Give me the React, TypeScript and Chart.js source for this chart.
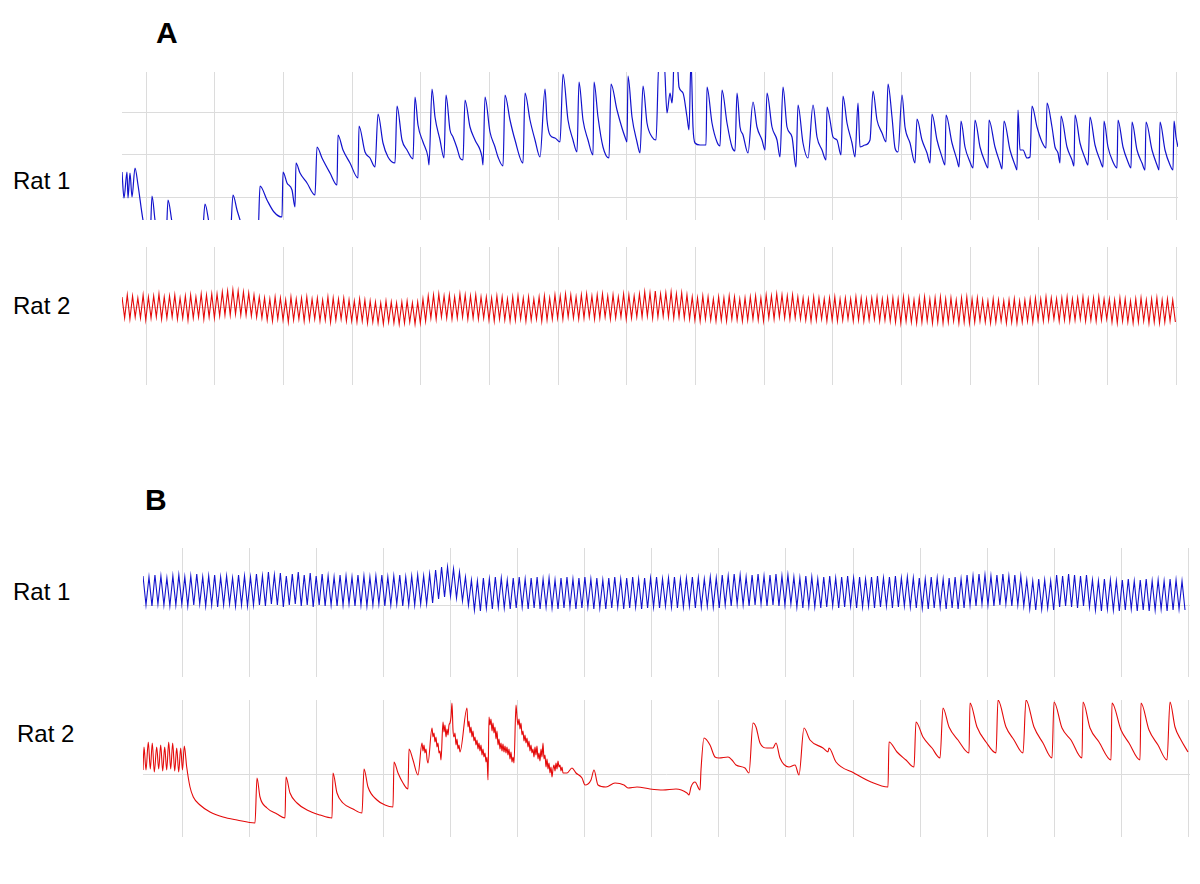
import React, { useEffect, useRef } from "react";
import { Chart, registerables } from "chart.js";

Chart.register(...registerables);

const GRID = "#dcdcdc";
const BLUE = "rgb(18,18,205)";
const RED = "rgb(228,10,10)";

// ---- grid (tick) positions, in sample units ----
const panelATicks = [24, 92.7, 161.3, 230, 298.7, 367.3, 436, 504.7, 573.3, 642, 710.7, 779.3, 848, 916.7, 985.3, 1054];
const panelBTicks = [39, 106.1, 173.2, 240.3, 307.4, 374.5, 441.6, 508.7, 575.8, 642.9, 710, 777.1, 844.2, 911.3, 978.4, 1045.5];
const rat1ATicks = [23, 65, 108];
const rat2ATicks = [77];
const rat1BTicks = [72];
const rat2BTicks = [63];

// ---- Panel A, Rat 1: [time, value] ----
const rat1A: [number, number][] = [
  [0,48],[2,22],[5,48],[6,22],[8,47],[10,23],[13,52],[16,35],[21,0],[25,-15],[28,-20],[30,24],[33,0],[36,-20],
  [44,-20],[46,20],[50,-2],[54,-20],[80,-20],[83,16],[87,-3],[90,-20],[108,-20],[111,25],[115,10],[118,0],[122,-15],
  [136,-15],[138,34],[145,20],[152,8],[160,3],[161,48],[165,37],[170,30],[173,13],[174,57],[178,47],[185,37],[193,25],
  [195,73],[200,62],[208,47],[215,35],[216,85],[221,70],[228,57],[236,42],[237,94],[243,68],[248,62],[253,53],
  [256,106],[261,77],[266,63],[273,57],[275,114],[280,80],[285,70],[291,61],[293,123],[296,95],[301,78],[306,63],[307,55],
  [310,131],[313,103],[318,80],[322,62],[324,125],[328,90],[331,83],[335,72],[338,62],[341,60],[343,120],[348,93],[353,80],
  [360,63],[361,55],[363,123],[368,88],[373,73],[376,63],[381,54],[383,125],[388,100],[393,80],[401,57],[403,127],[408,100],
  [413,80],[418,63],[423,131],[425,100],[428,85],[433,82],[438,78],[441,146],[446,100],[451,80],[455,68],[457,138],[461,100],
  [466,80],[471,65],[472,138],[476,103],[481,73],[487,62],[489,136],[495,110],[500,92],[503,83],[505,78],[506,144],[510,103],
  [515,78],[518,67],[521,134],[525,97],[530,83],[534,80],[537,160],[542,160],[545,107],[548,127],[550,117],[551,130],[552,160],
  [555,160],[557,133],[561,127],[565,103],[567,90],[569,160],[571,93],[573,77],[578,75],[584,75],[585,133],[590,97],[595,78],
  [598,74],[600,130],[605,97],[610,73],[613,69],[615,127],[618,93],[621,85],[626,67],[631,118],[635,93],[640,80],[643,70],
  [645,127],[650,93],[655,80],[658,63],[661,133],[665,93],[670,83],[674,53],[676,115],[681,77],[686,62],[691,115],[695,83],
  [700,70],[704,60],[705,113],[708,100],[711,83],[715,80],[719,65],[721,124],[725,97],[730,77],[733,63],[736,117],[738,73],
  [743,75],[748,80],[751,129],[755,100],[760,87],[764,78],[766,136],[770,103],[773,72],[776,68],[780,125],[783,93],[788,77],
  [793,57],[795,101],[800,80],[805,67],[808,57],[810,106],[815,80],[820,63],[823,55],[824,105],[830,77],[835,60],[837,53],
  [839,99],[843,73],[848,58],[851,52],[853,100],[858,73],[863,58],[866,52],[867,100],[873,73],[878,57],[880,51],[882,99],
  [888,70],[893,55],[895,50],[896,110],[898,70],[901,70],[905,62],[908,63],[910,114],[915,93],[920,78],[924,72],[925,117],
  [930,93],[933,73],[936,67],[938,57],[939,104],[945,73],[950,60],[952,54],[953,105],[958,77],[963,62],[966,55],[968,103],
  [973,75],[978,60],[981,53],[982,99],[986,73],[991,58],[995,52],[996,100],[1001,73],[1006,58],[1009,52],[1010,98],[1015,70],
  [1020,57],[1023,50],[1024,98],[1030,70],[1035,55],[1037,50],[1038,98],[1043,70],[1048,55],[1051,50],[1052,99],[1054,83],[1056,73],
];

// ---- Panel A, Rat 2: cycle peaks and troughs ----
const rat2APeaks = [
  88,90,89,87,90,88,89,91,88,89,90,87,89,90,88,91, 90,91, 91,93,94,95,94,93,92,90,88,
  87,86,88,87,85,88,86,87,88,86,87,85,88,87,86,87, 85,84,86,85,84, 83,82,84,83,82,83,84,82,83, 86,
  89,90,91,89,90,88,91,90,89,90,88, 88,87,89,88,86,88,89,87,88,86,88,89,87,
  90,89,91,90,88,90,91,89,90,91,89,90,88,91,90,89, 91,93,92,94,91,92,93,91,92,90,
  88,87,89,88,86,88,87,89,88,86,87,88,89,87, 90,89,91,90,89,90,88,
  87,86,88,87,86,87,88,86,87,86,88,87,86,87,88,86,87, 87,86,88,87,85,87,88,86,87,88,86,87,85,87,88,86,87,
  85,84,86,85,84,85,86,84,85,86, 87,86,88,87,86,87,88,86,87,88,86,87,88,86, 86,85,87,86,84,86,87,85,86,87,85,86,85,
];
const rat2ATroughs = [
  67,66,68,67,65,67,68,66,67,68,66,67,65,67,68,66, 68,67, 69,70,70,71,70,70,69,68,67,
  65,64,66,65,63,65,66,64,65,66,64,65,63,65,66,64, 64,63,64,62,63, 62,61,63,62,61,62,63,61,62, 64,
  67,66,68,67,66,67,68,66,67,66,67, 65,64,66,65,64,65,66,64,65,66,64,65,66,
  67,66,68,67,66,67,68,66,67,68,66,67,68,66,67,68, 68,69,67,68,69,68,67,68,67,66,
  65,64,66,65,64,65,64,66,65,64,65,66,65,64, 67,66,68,67,66,67,66,
  65,64,65,66,64,65,64,65,66,64,65,64,65,66,64,65,64, 63,62,64,63,62,63,64,62,63,62,63,64,62,63,62,63,64,
  63,62,63,64,62,63,62,63,64,63, 65,64,65,66,64,65,64,65,66,64,65,64,65,66, 63,62,64,63,62,63,64,62,63,62,63,64,63,
];

// ---- Panel B, Rat 1: cycle peaks and troughs ----
const rat1BPeaks = [
  101,100,102,101,99,101,102,100,101,103,100,101,102,100,101,99,102,101,100,
  103,101,105,102,104,101,103,105,102,104,101,103,
  101,100,102,101,100,102,101,100,101,102,100,101,102,100,101,102,101,
  103,107,110,110,108,105,100, 97,96,
  99,98,100,99,97,99,100,98,99,100,98,99,97,99,100,98,99,100,98,99,97,99,100,98,99,100,98,99,
  99,100,98,99,100,98,99,100,99,98,100,99,
  102,101,103,102,100,102,103,101,102,103,101,102,
  100,99,101,100,98,100,101,99,100,101,99,100,98,100,101,99,100,101,99,100,99,
  99,98,100,99,98,99,100,98, 102,101,103,102,101,102,103,101,102,101, 97,96,98,97,96,
  102,101,103,102,101,102, 97,96,98,97,96,97,98,96,97,98,96,97,96,98,97,96,
];
const rat1BTroughs = [
  72,71,73,72,71,72,73,71,72,73,71,72,70,72,73,71,72,71,72,
  72,71,73,72,70,72,73,71,72,70,72,71,
  72,71,72,73,71,72,71,72,73,71,72,73,71,72,72,73,73,
  74,78,80,81,79,76,72, 67,66,
  69,68,70,69,68,69,70,68,69,68,70,69,68,69,70,68,69,70,68,69,68,69,70,68,69,70,68,69,
  70,69,71,70,69,70,71,69,70,71,70,69,
  72,71,73,72,71,72,73,71,72,71,72,73,
  70,69,71,70,69,70,71,69,70,71,69,70,71,69,70,71,69,70,71,70,69,
  69,68,69,70,68,69,68,69, 72,71,73,72,71,72,73,71,72,71, 68,67,68,69,67,
  70,71,70,69,71,70, 67,66,68,67,66,67,68,66,67,66,67,68,66,67,68,67,
];

// ---- Panel B, Rat 2: [time, value] ----
const rat2B: [number, number][] = [
  [0,67],[1,90],[3,67],[5.3,95],[7.3,68],[9.3,94],[11.3,65],[13.7,90],[15.7,68],[17.7,92],[19.7,66],[21.7,90],[23.7,67],
  [25.7,95],[27.7,68],[29.7,94],[31.7,66],[33.7,89],[35.7,65],[37.7,89],[39.5,67],[41.3,91],[43.7,70],[47,50],[50.3,40],
  [57,32],[67,25],[80,20],[94,17],[112,14],[114,59],[117,40],[124,29],[134,23],[142,19],[143,60],[147,44],[154,34],[164,27],
  [177,22],[189,19],[190,64],[194,44],[200,34],[210,28],[219,24],[221,68],[225,50],[234,37],[242,32],[250,30],[251,75],
  [255,64],[260,54],[265,48],[266,88],[270,77],[275,62],
  [279,94],[280,86],[281,92],[282,84],[283,88],[284,78],[285,74],[289,109],[290,100],[291,104],[292,95],[293,100],[294,90],
  [295,94],[296,84],[297,86],[298,77],[300,115],[301,105],[302,112],[303,100],[304,108],[305,102],[306,112],[307,114],
  [308,120],[309,134],[310,107],[311,100],[312,104],[313,92],[314,98],[315,88],[316,92],[317,85],[324,129],[325,110],
  [326,116],[327,104],[328,110],[329,100],[330,106],[331,96],[332,100],[333,92],[334,97],[335,88],[336,94],[337,86],
  [338,92],[339,82],[340,88],[341,80],[342,84],[343,75],[344,80],[345,57],[346,120],[347,112],[348,118],[349,106],
  [350,114],[351,104],[352,110],[353,98],[354,106],[355,92],[356,98],[357,88],[358,94],[359,86],[360,93],[361,85],
  [362,91],[363,84],[364,90],[365,82],[366,88],[367,78],[368,85],[369,75],[370,80],[371,74],[373,132],[374,120],
  [375,112],[376,118],[377,108],[378,114],[379,102],[380,106],[381,96],[382,102],[383,94],[384,99],[385,90],[386,96],
  [387,86],[388,92],[389,84],[390,88],[391,80],[392,90],[393,82],[394,91],[395,78],[396,84],[397,76],[398,88],[399,80],
  [400,94],[401,78],[402,82],[403,70],[404,78],[405,68],[406,74],[407,64],[408,70],[409,60],[410,68],[411,72],[412,66],
  [413,74],[414,68],[415,76],[416,70],[417,72],[418,66],[419,70],[420,64],
  [424,64],[429,69],[433,64],[439,59],[442,52],[448,57],[451,67],[455,52],[463,50],[472,54],[481,52],[485,49],[494,50],
  [507,48],[520,47],[533,48],[544,44],[546,42],[548,50],[552,55],[557,47],[558,67],[561,99],[567,92],[572,80],[576,79],
  [585,80],[589,77],[593,72],[602,69],[606,64],[610,114],[613,110],[617,94],[624,89],[630,89],[633,94],[637,79],[646,70],
  [652,72],[656,62],[661,109],[667,97],[680,89],[685,85],[686,89],[693,75],[711,64],[728,55],[745,50],[746,95],[754,85],
  [763,77],[771,70],[773,115],[780,100],[789,89],[797,79],[800,129],[806,110],[815,97],[826,84],[827,134],[834,110],
  [843,95],[853,84],[855,137],[863,110],[871,97],[880,84],[883,137],[891,110],[900,94],[909,79],[911,135],[919,109],
  [928,97],[939,79],[940,135],[947,109],[956,95],[968,77],[969,134],[978,107],[986,94],[997,77],[998,134],[1006,107],
  [1015,92],[1024,77],[1027,135],[1032,110],[1038,97],[1045,85],
];

type Pt = { x: number; y: number };

const pairsToPoints = (pairs: [number, number][]): Pt[] => pairs.map(([x, y]) => ({ x, y }));

// uniform sampling time base: one peak and one trough per cycle
const cyclesToPoints = (peaks: number[], troughs: number[], span: number): Pt[] => {
  const step = span / peaks.length;
  const pts: Pt[] = [];
  for (let i = 0; i < peaks.length; i++) {
    pts.push({ x: i * step, y: peaks[i] });
    pts.push({ x: i * step + step / 2, y: troughs[i] });
  }
  return pts;
};

type TraceProps = {
  left: number; top: number; width: number; height: number;
  yMax: number; xTicks: number[]; yTicks: number[];
  points: Pt[]; color: string; smooth: boolean; lineWidth: number;
};

function TraceChart({ left, top, width, height, yMax, xTicks, yTicks, points, color, smooth, lineWidth }: TraceProps) {
  const ref = useRef<HTMLCanvasElement | null>(null);
  useEffect(() => {
    const canvas = ref.current;
    if (!canvas) return;
    const axis = (ticks: number[], horizontal: boolean, max: number) => ({
      type: "linear" as const,
      min: 0,
      max,
      grid: { color: GRID, lineWidth: 1, drawTicks: false },
      border: { display: false },
      ticks: { display: false },
      afterBuildTicks: (s: any) => { s.ticks = ticks.map((value) => ({ value })); },
      afterFit: (s: any) => { if (horizontal) s.height = 0; else s.width = 0; },
    });
    const chart = new Chart(canvas, {
      type: "line",
      data: {
        datasets: [{
          data: points,
          borderColor: color,
          borderWidth: lineWidth,
          pointRadius: 0,
          fill: false,
          tension: 0,
          cubicInterpolationMode: smooth ? "monotone" : "default",
        }],
      },
      options: {
        animation: false,
        responsive: false,
        devicePixelRatio: 1,
        events: [],
        layout: { padding: 0 },
        plugins: { legend: { display: false }, tooltip: { enabled: false }, title: { display: false } },
        scales: { x: axis(xTicks, true, width), y: axis(yTicks, false, yMax) },
      } as any,
    });
    return () => chart.destroy();
  }, []);
  return (
    <canvas
      ref={ref}
      width={width}
      height={height}
      style={{ position: "absolute", left, top, width, height }}
    />
  );
}

function Label({ text, left, top, size, bold }: { text: string; left: number; top: number; size: number; bold?: boolean }) {
  return (
    <div
      style={{
        position: "absolute", left, top, fontSize: size, lineHeight: `${size}px`,
        fontWeight: bold ? 700 : 400, whiteSpace: "nowrap", color: "#000",
      }}
    >
      {text}
    </div>
  );
}

export default function App() {
  return (
    <div
      style={{
        position: "fixed", left: 0, top: 0, width: 1200, height: 884, background: "#fff", overflow: "hidden",
        fontFamily: '"Liberation Sans", Arial, Helvetica, sans-serif',
      }}
    >
      <Label text="A" left={156} top={18} size={30} bold />
      <Label text="B" left={145} top={485} size={30} bold />
      <Label text="Rat 1" left={13} top={169} size={24} />
      <Label text="Rat 2" left={13} top={294} size={24} />
      <Label text="Rat 1" left={13} top={580} size={24} />
      <Label text="Rat 2" left={17} top={722} size={24} />

      <TraceChart left={122} top={72} width={1056} height={148} yMax={148} lineWidth={1.2}
        xTicks={panelATicks} yTicks={rat1ATicks} points={pairsToPoints(rat1A)} color={BLUE} smooth />
      <TraceChart left={122} top={247} width={1056} height={138} yMax={138} lineWidth={1.1}
        xTicks={panelATicks} yTicks={rat2ATicks} points={cyclesToPoints(rat2APeaks, rat2ATroughs, 1056)} color={RED} smooth={false} />
      <TraceChart left={143} top={548} width={1047} height={129} yMax={129} lineWidth={1.1}
        xTicks={panelBTicks} yTicks={rat1BTicks} points={cyclesToPoints(rat1BPeaks, rat1BTroughs, 1045)} color={BLUE} smooth={false} />
      <TraceChart left={143} top={700} width={1047} height={137} yMax={137} lineWidth={1.1}
        xTicks={panelBTicks} yTicks={rat2BTicks} points={pairsToPoints(rat2B)} color={RED} smooth />
    </div>
  );
}
